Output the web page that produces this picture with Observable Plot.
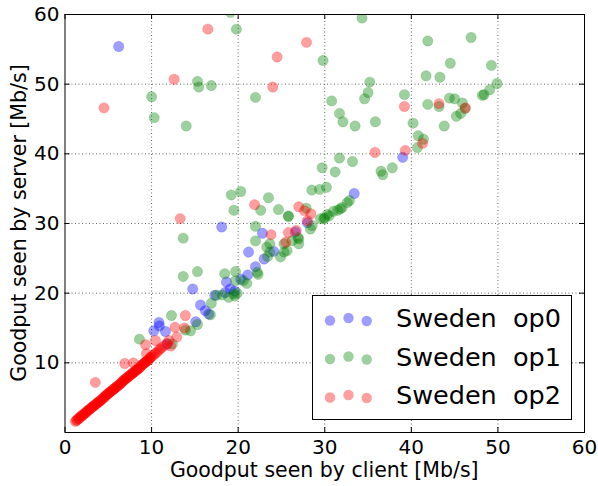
<!DOCTYPE html>
<html><head><meta charset="utf-8">
<script src="https://cdn.jsdelivr.net/npm/d3@7"></script>
<script src="https://cdn.jsdelivr.net/npm/@observablehq/plot@0.6"></script>
<style>
html,body{margin:0;padding:0;background:#fff;}
svg{font-family:"DejaVu Sans",sans-serif;}
</style></head><body><div id="chart"></div>
<script>
// ---- data ----
const seriesNames = ["Sweden  op0", "Sweden  op1", "Sweden  op2"];
const seriesColors = ["#0000ff", "#008000", "#ff0000"];
const xTicks = [0, 10, 20, 30, 40, 50, 60];
const yTicks = [10, 20, 30, 40, 50, 60];
const xLabel = "Goodput seen by client [Mb/s]";
const yLabel = "Goodput seen by server [Mb/s]";

const op0Client = [6.2, 39.0, 33.4, 18.1, 22.8, 26.6, 28.0, 24.1, 21.2, 23.0, 22.0, 20.3, 21.1, 18.65, 18.5, 19.1, 14.75, 15.65, 16.2, 16.6, 15.1, 10.85, 10.9, 10.25, 11.6, 11.8, 17.3, 19.6];
const op0Server = [55.4, 39.5, 34.3, 29.5, 28.6, 28.8, 30.1, 26.0, 25.9, 24.9, 23.8, 22.0, 22.6, 21.6, 20.1, 20.6, 20.6, 18.3, 17.5, 17.0, 15.9, 15.8, 15.3, 14.6, 14.5, 12.7, 19.7, 20.3];

const op1Client = [19.1, 34.3, 19.8, 29.8, 15.3, 15.45, 16.9, 22.0, 10.0, 10.3, 14.0, 30.8, 41.9, 46.9, 44.5, 49.25, 41.7, 43.3, 35.2, 49.9,
  35.0, 34.6, 39.2, 31.7, 32.1, 33.5, 35.85, 41.9, 43.2, 44.4, 45.0, 45.9, 45.7, 45.2, 48.2, 48.4, 49.05, 43.8, 40.2, 40.8,
  41.4, 40.7, 31.7, 33.2, 29.7, 31.2, 36.5, 36.7, 37.8, 28.5, 29.4, 30.2, 32.85, 32.0, 31.0, 30.3, 29.9, 30.5, 31.8, 32.6,
  19.2, 20.3, 19.5, 22.6, 23.5, 24.65, 25.8, 27.85, 13.65, 22.0, 22.0, 23.65, 23.3, 23.65, 23.4, 24.9, 25.3, 25.65, 25.3, 27.0,
  26.2, 27.0, 26.9, 28.35, 28.55, 29.5, 30.0, 13.65, 15.3, 18.45, 19.7, 22.2, 22.3, 19.7, 21.0, 20.6, 17.5, 18.15, 19.5, 18.9,
  19.9, 19.6, 16.9, 16.8, 12.3, 15.3, 14.5, 13.9, 12.4, 8.6, 46.2, 25.8, 31.5];
const op1Server = [60.3, 59.5, 57.9, 53.4, 50.4, 49.6, 49.8, 48.1, 48.2, 45.2, 44.0, 47.6, 56.2, 56.7, 53.0, 52.7, 51.2, 51.0, 50.3, 50.1,
  48.8, 47.9, 48.5, 45.8, 44.6, 44.0, 44.6, 47.1, 46.8, 48.0, 47.9, 47.3, 45.8, 45.4, 48.4, 48.5, 49.2, 44.0, 44.4, 42.6,
  42.1, 40.9, 39.4, 38.9, 38.0, 37.4, 37.5, 37.0, 38.0, 34.8, 34.9, 35.2, 33.3, 32.3, 31.75, 31.3, 30.7, 31.1, 32.1, 33.0,
  34.1, 34.6, 31.9, 31.9, 33.7, 32.0, 31.1, 32.2, 27.9, 29.6, 27.5, 27.1, 26.6, 25.9, 25.25, 25.2, 25.9, 26.1, 27.1, 27.8,
  27.5, 27.1, 28.0, 29.2, 29.7, 30.7, 30.8, 22.4, 23.1, 22.8, 23.1, 23.0, 22.7, 21.8, 21.4, 21.8, 19.7, 19.75, 19.9, 19.4,
  20.0, 19.6, 18.55, 16.9, 16.8, 15.5, 14.6, 14.7, 12.7, 13.4, 46.5, 31.0, 31.9];

const op2Client = [16.5, 27.9, 24.5, 12.6, 24.0, 4.5, 39.2, 43.2, 46.25, 41.3, 39.3, 35.8, 21.9, 27.0, 27.65, 28.4, 13.3, 28.0, 26.7, 25.8,
  25.5, 23.8, 13.9, 12.7, 13.8, 12.9, 10.45, 9.3, 12.0, 9.4, 6.9, 7.9, 3.5, 12.2,
  1.2, 1.3, 1.4, 1.5, 1.6, 1.7, 1.8, 1.9, 2.0, 2.1, 2.2, 2.3, 2.4, 2.5, 2.6, 2.7, 2.8, 2.9, 3.0, 3.1,
  3.2, 3.3, 3.4, 3.5, 3.6, 3.7, 3.8, 3.9, 4.0, 4.1, 4.2, 4.3, 4.4, 4.5, 4.6, 4.7, 4.8, 4.9, 5.0, 5.1,
  5.2, 5.3, 5.4, 5.5, 5.6, 5.7, 5.8, 5.9, 6.0, 6.1, 6.2, 6.3, 6.4, 6.5, 6.6, 6.7, 6.8, 6.9, 7.0, 7.1,
  7.2, 7.3, 7.4, 7.5, 7.6, 7.7, 7.8, 7.9, 8.0, 8.1, 8.2, 8.3, 8.4, 8.5, 8.6, 8.7, 8.8, 8.9, 9.0, 9.1,
  9.2, 9.3, 9.4, 9.5, 9.6, 9.7, 9.8, 9.9, 10.0, 10.2, 10.4, 10.6, 10.8, 11.0, 11.2, 11.5, 11.8];
const op2Server = [57.9, 56.0, 53.9, 50.7, 49.6, 46.6, 46.8, 47.2, 46.6, 41.5, 40.5, 40.2, 32.7, 32.4, 31.85, 31.4, 30.7, 30.4, 29.0, 28.7,
  27.3, 28.4, 16.8, 15.1, 15.0, 13.7, 13.2, 12.6, 13.2, 11.3, 9.9, 10.0, 7.2, 12.4,
  1.6, 1.7, 1.8, 2.0, 2.0, 2.1, 2.3, 2.4, 2.4, 2.5, 2.7, 2.8, 2.8, 3.0, 3.1, 3.2, 3.3, 3.4, 3.5, 3.6,
  3.7, 3.8, 3.9, 4.0, 4.1, 4.2, 4.3, 4.4, 4.5, 4.6, 4.7, 4.8, 4.9, 5.1, 5.1, 5.3, 5.4, 5.5, 5.6, 5.7,
  5.8, 5.9, 6.0, 6.1, 6.2, 6.3, 6.4, 6.5, 6.6, 6.7, 6.8, 6.9, 7.0, 7.1, 7.3, 7.4, 7.5, 7.6, 7.7, 7.8,
  7.9, 8.0, 8.1, 8.2, 8.3, 8.4, 8.5, 8.6, 8.7, 8.8, 8.9, 9.0, 9.1, 9.2, 9.3, 9.4, 9.6, 9.7, 9.8, 9.9,
  10.0, 10.1, 10.2, 10.3, 10.4, 10.5, 10.7, 10.8, 10.9, 11.1, 11.3, 11.5, 11.8, 12.0, 12.2, 12.5, 12.8];

// ---- build tables ----
const toRows = (xs, ys) => xs.map((x, i) => ({client: x, server: ys[i]}));
const series = [toRows(op0Client, op0Server), toRows(op1Client, op1Server), toRows(op2Client, op2Server)];

const W = 598, H = 486;
const mL = 64.5, mR = 14, mT = 14, mB = 54;
const frameW = W - mL - mR, frameH = H - mT - mB;
const R = 5.2, OP = 0.38;
const gridVals = xTicks.slice(1, -1);

const plot = Plot.plot({
  width: W, height: H,
  marginLeft: mL, marginRight: mR, marginTop: mT, marginBottom: mB,
  style: {fontFamily: "DejaVu Sans, sans-serif", fontSize: "20px", background: "white", color: "black", overflow: "visible"},
  x: {domain: [0, 60]},
  y: {domain: [0, 60]},
  marks: [
    Plot.gridX(gridVals, {stroke: "#000", strokeOpacity: 0.6, strokeDasharray: "1,2.5", strokeWidth: 1}),
    Plot.gridY(gridVals, {stroke: "#000", strokeOpacity: 0.6, strokeDasharray: "1,2.5", strokeWidth: 1}),
    ...series.map((rows, i) => Plot.dot(rows, {x: "client", y: "server", r: R, fill: seriesColors[i], fillOpacity: OP, stroke: seriesColors[i], strokeOpacity: OP * 0.5, strokeWidth: 0.8, clip: true})),
    Plot.tickX(xTicks, {x: d => d, stroke: "#000", insetTop: frameH - 5}),
    Plot.tickX(xTicks, {x: d => d, stroke: "#000", insetBottom: frameH - 5}),
    Plot.tickY(yTicks, {y: d => d, stroke: "#000", insetRight: frameW - 5}),
    Plot.tickY(yTicks, {y: d => d, stroke: "#000", insetLeft: frameW - 5}),
    Plot.axisX(xTicks, {tickSize: 0, tickPadding: 7.5, label: null, fontSize: 20}),
    Plot.axisY(yTicks, {tickSize: 0, tickPadding: 5.5, label: null, fontSize: 20}),
    Plot.frame({stroke: "#000", strokeWidth: 1})
  ]
});

const svg = d3.select(plot);
// axis labels
svg.append("text").attr("x", mL + frameW / 2).attr("y", 477)
  .attr("text-anchor", "middle").attr("font-size", 20.5).attr("fill", "#000").text(xLabel);
svg.append("text").attr("transform", `translate(26,${mT + frameH / 2}) rotate(-90)`)
  .attr("text-anchor", "middle").attr("font-size", 20.5).attr("fill", "#000").text(yLabel);

// legend
const lg = svg.append("g").attr("text-anchor", "start");
lg.append("rect").attr("x", 312.5).attr("y", 295.5).attr("width", 259).attr("height", 124)
  .attr("fill", "white").attr("stroke", "#000").attr("stroke-width", 1);
const dotDx = [330, 348.5, 366.7], dotDy = [2.5, 0, 3];
seriesNames.forEach((name, i) => {
  const cy = 318 + i * 38.5;
  dotDx.forEach((dx, j) => {
    lg.append("circle").attr("cx", dx).attr("cy", cy + dotDy[j]).attr("r", R)
      .attr("fill", seriesColors[i]).attr("fill-opacity", OP);
  });
  lg.append("text").attr("x", 396).attr("y", cy + 9).attr("font-size", 25.5)
    .attr("text-anchor", "start").attr("fill", "#000").style("white-space", "pre").text(name);
});

document.getElementById("chart").appendChild(plot);
</script>
</body></html>
